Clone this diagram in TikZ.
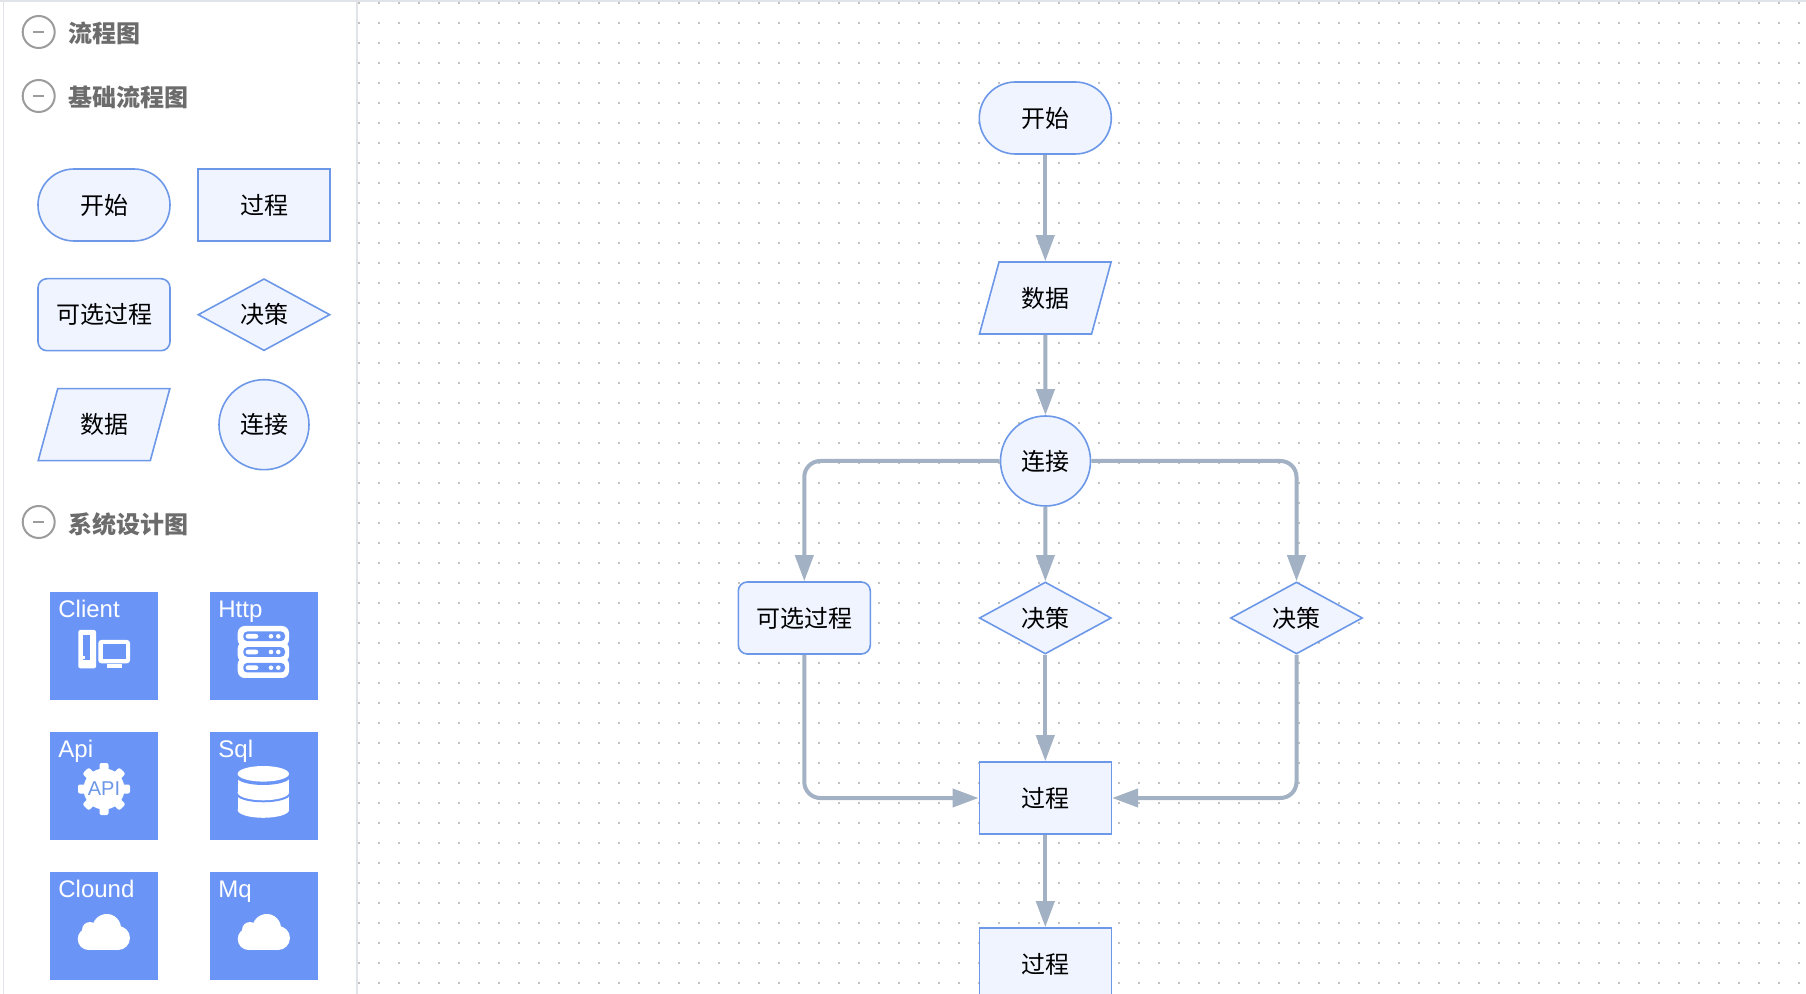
\documentclass[tikz,border=0pt]{standalone}
\usepackage{fontspec}
\setmainfont{Noto Sans CJK SC}
\newfontfamily\latinfont{Liberation Sans}
\usetikzlibrary{arrows.meta,shapes.geometric}
\definecolor{nodefill}{HTML}{EFF4FF}
\definecolor{nodeline}{HTML}{6D98E8}
\definecolor{flowgrey}{HTML}{A2B1C3}
\definecolor{tileblue}{HTML}{6A95F7}
\definecolor{edgegrey}{HTML}{E0E3E8}
\definecolor{dotgrey}{HTML}{C2C2C2}
\definecolor{headgrey}{HTML}{6C6C6C}
\definecolor{ringgrey}{HTML}{9C9C9C}
\begin{document}
\begin{tikzpicture}[x=0.5pt,y=-0.5pt,
    flownode/.style ={draw=nodeline, fill=nodefill, line width=0.8pt, inner sep=0pt, font=\fontsize{12}{14}\selectfont},
    boxnode/.style ={flownode, rectangle, minimum width=66pt, minimum height=36pt},
    roundnode/.style ={boxnode, rounded corners=4.5pt},
    startnode/.style ={boxnode, rounded corners=18pt},
    decisionnode/.style ={flownode, diamond, aspect=1.83, minimum width=66pt, minimum height=36pt},
    datanode/.style ={flownode, trapezium, trapezium left angle=65.4, trapezium right angle=114.6, trapezium stretches=true, minimum width=66pt, minimum height=36pt},
    joinnode/.style ={flownode, circle, minimum size=45pt},
    headnode/.style ={anchor=west, inner sep=0pt, text=headgrey, font=\fontsize{12}{14}\selectfont\bfseries},
    ringnode/.style ={circle, draw=ringgrey, line width=1pt, inner sep=0pt, minimum size=16pt},
    tilenode/.style ={rectangle, fill=tileblue, inner sep=0pt, minimum size=54pt},
    tilelabel/.style ={anchor=base west, inner sep=0pt, text=white, font=\latinfont\fontsize{12}{14}\selectfont},
    flowline/.style ={draw=flowgrey, line width=2pt, rounded corners=8pt, -{Triangle[length=13pt,width=9pt]}}]
  \useasboundingbox (0,0) rectangle (1806,994);
  \fill[white] (0,0) rectangle (1806,994);
  % dotted canvas and sidebar edges
  \foreach \x in {359,379,...,1806}
    \draw[dotgrey, line width=1pt, dash pattern=on 1pt off 9pt] (\x,2) -- (\x,994);
  \fill[edgegrey] (0,0) rectangle (1806,2);
  \fill[edgegrey] (2.5,0) rectangle (4,994);
  \fill[edgegrey] (356,0) rectangle (358,994);
  % sidebar headings
  \foreach \name/\ry/\ty/\txt in {a/32/33/流程图, b/96/97.5/基础流程图, c/522/524/系统设计图} {
    \node[ringnode] (ring\name) at (38.7,\ry) {};
    \draw[ringgrey, line width=0.8pt] ([xshift=-2.7pt]ring\name.center) -- ([xshift=2.7pt]ring\name.center);
    \node[headnode] (head\name) at (68.5,\ty) {\txt};
  }
  % palette
  \node[startnode] (pstart) at (104,205) {开始};
  \node[boxnode] (pproc) at (264,205) {过程};
  \node[roundnode] (palt) at (104,314.7) {可选过程};
  \node[decisionnode] (pdec) at (264,314.7) {决策};
  \node[datanode] (pdata) at (104,424.7) {数据};
  \node[joinnode] (pjoin) at (264,424.7) {连接};
  % tiles
  \node[tilenode] (tclient) at (104,646) {};
  \node[tilenode] (thttp) at (264,646) {};
  \node[tilenode] (tapi) at (104,786) {};
  \node[tilenode] (tsql) at (264,786) {};
  \node[tilenode] (tcloud) at (104,926) {};
  \node[tilenode] (tmq) at (264,926) {};
  \node[tilelabel] (lclient) at (58,617.3) {Client};
  \node[tilelabel] (lhttp) at (218,617.3) {Http};
  \node[tilelabel] (lapi) at (58,757.3) {Api};
  \node[tilelabel] (lsql) at (218,757.3) {Sql};
  \node[tilelabel] (lcloud) at (58,897.3) {Clound};
  \node[tilelabel] (lmq) at (218,897.3) {Mq};
  % client icon
  \fill[white, rounded corners=1pt] (78.3,630) rectangle (96,668.3);
  \fill[tileblue] (83.3,635) rectangle (90,660);
  \fill[white] (83.3,656.5) rectangle (85,659.5);
  \fill[white, rounded corners=1.5pt] (98.3,640) rectangle (130,663.3);
  \fill[tileblue] (103.3,644.5) rectangle (125.7,659);
  \fill[white] (106.7,664.5) rectangle (121.7,667.7);
  % http icon
  \foreach \y in {636.3,652,667.7} {
    \fill[white, rounded corners=3.5pt] (237.7,\y-10.3) rectangle (289,\y+10.3);
  }
  \foreach \y in {636.3,652,667.7} {
    \fill[tileblue, rounded corners=2pt] (243.3,\y-4.8) rectangle (285,\y+4.8);
    \fill[white, rounded corners=1.1pt] (245.7,\y-2.3) rectangle (258.3,\y+2.3);
    \fill[white] (271,\y) circle (2.3);
    \fill[white] (278.3,\y) circle (2.3);
  }
  % api icon
  \fill[white] (104,789) circle (20.5);
  \foreach \a in {0,45,...,315}
    \fill[white, rounded corners=1pt, rotate around={\a:(104,789)}] (99.5,763) rectangle (108.5,775);
  \node[inner sep=0pt, text=nodeline, font=\latinfont\fontsize{10}{12}\selectfont] (apitext) at (104,789) {API};
  % sql icon
  \fill[white] (263.3,810) ellipse [x radius=25.7, y radius=7.8];
  \fill[white] (237.6,796) rectangle (289,810);
  \fill[tileblue] (263.3,794.5) ellipse [x radius=26.7, y radius=7.8];
  \fill[tileblue] (236.6,785) rectangle (290,794.5);
  \fill[white] (263.3,792.5) ellipse [x radius=25.7, y radius=7.8];
  \fill[white] (237.6,778) rectangle (289,792.5);
  \fill[tileblue] (263.3,777) ellipse [x radius=26.7, y radius=8];
  \fill[tileblue] (236.6,770) rectangle (290,777);
  \fill[white] (263.3,773.8) ellipse [x radius=25.7, y radius=7.8];
  % cloud icons
  \foreach \cx in {0,160} {
    \fill[white] (\cx+106.7,928.3) circle (14.3);
    \fill[white] (\cx+90,930) circle (8);
    \fill[white] (\cx+88.7,939) circle (11);
    \fill[white] (\cx+118,938) circle (12);
    \fill[white] (\cx+88.7,934) rectangle (\cx+118,950);
  }
  % flow chart
  \node[startnode] (start) at (1045.3,118) {开始};
  \node[datanode] (data) at (1045.3,298) {数据};
  \node[joinnode] (join) at (1045.5,461) {连接};
  \node[roundnode] (alt) at (804.3,618) {可选过程};
  \node[decisionnode] (deca) at (1045.3,618) {决策};
  \node[decisionnode] (decb) at (1296.5,618) {决策};
  \node[boxnode] (proca) at (1045.3,798) {过程};
  \node[boxnode] (procb) at (1045.3,964) {过程};
  \draw[flowline] (start) to (data);
  \draw[flowline] (data) to (join);
  \draw[flowline] (join.west) -| (alt.north);
  \draw[flowline] (join) to (deca);
  \draw[flowline] (join.east) -| (decb.north);
  \draw[flowline] (alt.south) |- (proca.west);
  \draw[flowline] (deca) to (proca);
  \draw[flowline] (decb.south) |- (proca.east);
  \draw[flowline] (proca) to (procb);
\end{tikzpicture}
\end{document}
